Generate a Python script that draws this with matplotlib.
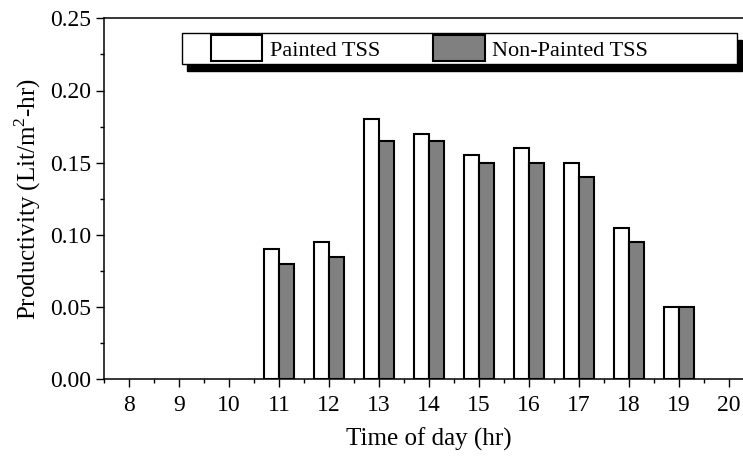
import numpy as np
import matplotlib
matplotlib.use("Agg")
import matplotlib.pyplot as plt
from matplotlib.patches import Patch, Rectangle
from matplotlib.ticker import MultipleLocator

plt.rcParams['font.family'] = ['Liberation Serif', 'DejaVu Serif']
plt.rcParams['mathtext.fontset'] = 'custom'
plt.rcParams['mathtext.rm'] = 'Liberation Serif'

# data
hours = np.array([11, 12, 13, 14, 15, 16, 17, 18, 19])
painted = [0.090, 0.095, 0.180, 0.170, 0.155, 0.160, 0.150, 0.105, 0.050]
non_painted = [0.080, 0.085, 0.165, 0.165, 0.150, 0.150, 0.140, 0.095, 0.050]
xticks = list(range(8, 21))

W, H = 743, 457
fig = plt.figure(figsize=(W / 100, H / 100), dpi=100)
ax = fig.add_axes([104 / W, 1 - 379.3 / H, 650 / W, 361 / H])

bw = 0.3
ax.bar(hours - bw / 2, painted, width=bw, color="white", edgecolor="black", linewidth=1.5)
ax.bar(hours + bw / 2, non_painted, width=bw, color="#808080", edgecolor="black", linewidth=1.5)

ax.set_xlim(7.5, 20.5)
ax.set_ylim(0, 0.25)
ax.set_xticks(xticks)
ax.xaxis.set_minor_locator(MultipleLocator(0.5))
ax.yaxis.set_major_locator(MultipleLocator(0.05))
ax.yaxis.set_minor_locator(MultipleLocator(0.025))
ax.yaxis.set_major_formatter(plt.FormatStrFormatter('%.2f'))
ax.tick_params(which='both', direction='out', width=1, labelsize=17)
ax.tick_params(which='major', length=6)
ax.tick_params(which='minor', length=3)
ax.tick_params(axis='x', which='major', pad=5)
for sp in ax.spines.values():
    sp.set_linewidth(1.1)

ax.set_xlabel("Time of day (hr)", fontsize=18, labelpad=9)
ax.set_ylabel(r"Productivity (Lit/m$^{2}$-hr)", fontsize=18, labelpad=5)

# legend box with black shadow
bx0, bx1 = 182 / W, 737 / W
by0, by1 = 1 - 63.5 / H, 1 - 33 / H
fig.patches.append(Rectangle((bx0 + 5 / W, by0 - 7 / H), bx1 - bx0, by1 - by0,
                             transform=fig.transFigure, facecolor="black",
                             edgecolor="black", zorder=3))
fig.patches.append(Rectangle((bx0, by0), bx1 - bx0, by1 - by0,
                             transform=fig.transFigure, facecolor="white",
                             edgecolor="black", linewidth=1, zorder=4))
handles = [Patch(facecolor="white", edgecolor="black", linewidth=1.5, label="Painted TSS"),
           Patch(facecolor="#808080", edgecolor="black", linewidth=1.5, label="Non-Painted TSS")]
leg = fig.legend(handles=handles, loc="center left", ncol=2, frameon=False,
                 bbox_to_anchor=(211 / W, (by0 + by1) / 2), fontsize=16,
                 handlelength=2.3, handleheight=1.4, handletextpad=0.35,
                 columnspacing=2.4, borderpad=0, borderaxespad=0)
leg.set_zorder(5)

fig.savefig("out.png", dpi=100)
